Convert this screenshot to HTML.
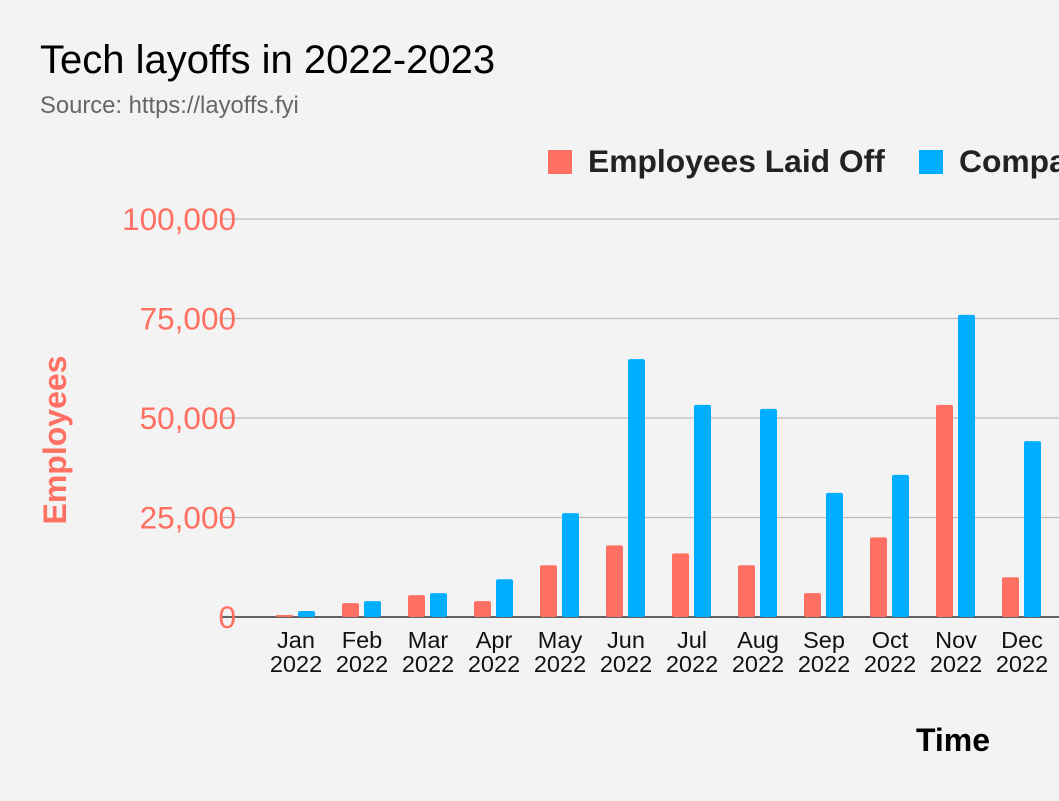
<!DOCTYPE html>
<html><head><meta charset="utf-8"><style>
body{margin:0;background:#f3f3f3;width:1059px;height:796px;overflow:hidden;font-family:"Liberation Sans",Arial,sans-serif}
</style></head><body>
<svg width="1059" height="796" xmlns="http://www.w3.org/2000/svg" id="chart">
<rect width="1059" height="796" fill="#f3f3f3"/>
<text x="40" y="73" font-size="40" fill="#000">Tech layoffs in 2022-2023</text>
<text x="40" y="113" font-size="23.8" fill="#666">Source: https://layoffs.fyi</text>
<g>
<rect x="548" y="150" width="24" height="24" fill="#ff7062"/>
<text x="588" y="172" font-size="31.8" font-weight="bold" fill="#222">Employees Laid Off</text>
<rect x="919" y="150" width="24" height="24" fill="#00aeff"/>
<text x="959" y="172" font-size="31.8" font-weight="bold" fill="#222">Companies</text>
</g>
<text transform="translate(66,440) rotate(-90)" text-anchor="middle" font-size="32" font-weight="bold" fill="#ff7062">Employees</text>
<text x="953" y="751" text-anchor="middle" font-size="32" font-weight="bold" fill="#000">Time</text>
<g id="grid"></g><g id="bars"></g><g id="xlabels"></g>
</svg>
<script>
const categories=["Jan","Feb","Mar","Apr","May","Jun","Jul","Aug","Sep","Oct","Nov","Dec"];
const years=["2022","2022","2022","2022","2022","2022","2022","2022","2022","2022","2022","2022"];
const employees=[500,3500,5500,4000,13000,18000,16000,13000,6000,20000,53300,10000];
const companies=[1500,4000,6000,9500,26100,64800,53300,52300,31200,35700,75900,44200];
const yTicks=[0,25000,50000,75000,100000];
const NS="http://www.w3.org/2000/svg";
function y(v){return 617-v*(398/100000);}
function xc(i){return 296+i*66;}
function mk(t,a,p){const e=document.createElementNS(NS,t);for(const k in a)e.setAttribute(k,a[k]);p.appendChild(e);return e;}
const grid=document.getElementById('grid'),bars=document.getElementById('bars'),xl=document.getElementById('xlabels');
yTicks.forEach(v=>{
  const l=mk('line',{x1:222,x2:1059,y1:y(v),y2:y(v),stroke:v===0?'#333':'#bbb','stroke-width':v===0?1.5:1.2},grid);
  
  
  const t=mk('text',{x:236,y:y(v)+11,'text-anchor':'end','font-size':31.5,fill:'#ff7062'},grid);
  t.textContent=v.toLocaleString('en-US');
  
  
});
categories.forEach((c,i)=>{
  const r=mk('rect',{x:xc(i)-20,y:y(employees[i]),width:17,height:617-y(employees[i]),fill:'#ff7062',rx:2},bars);
  
  
  const b=mk('rect',{x:xc(i)+2,y:y(companies[i]),width:17,height:617-y(companies[i]),fill:'#00aeff',rx:2},bars);
  
  
  const t1=mk('text',{x:xc(i),y:648,'text-anchor':'middle','font-size':23.5,fill:'#111'},xl);
  t1.textContent=c;
  
  
  const t2=mk('text',{x:xc(i),y:672,'text-anchor':'middle','font-size':23.5,fill:'#111'},xl);
  t2.textContent=years[i];
  
  
});
</script>
</body></html>
